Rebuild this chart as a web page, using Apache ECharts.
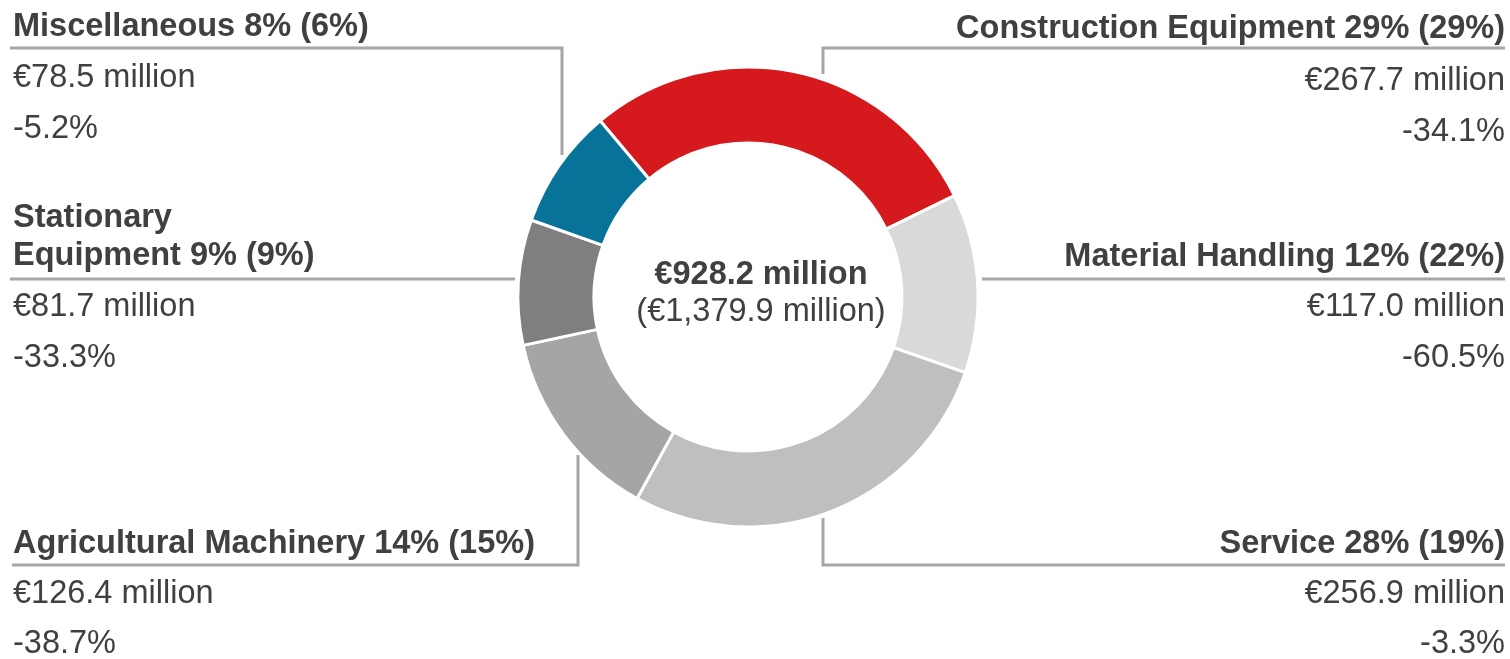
<!DOCTYPE html>
<html>
<head>
<meta charset="utf-8">
<title>Revenue by segment</title>
<script src="https://cdn.jsdelivr.net/npm/echarts@6/dist/echarts.min.js"></script>
<style>
  html, body { margin: 0; padding: 0; background: #fff; }
  #chart { width: 1510px; height: 659px; }
</style>
</head>
<body>
<div id="chart"></div>
<script>
// segment data
const segments = ['Construction Equipment', 'Material Handling', 'Service', 'Agricultural Machinery', 'Stationary\nEquipment', 'Miscellaneous']
const revenue = [267.7, 117.0, 256.9, 126.4, 81.7, 78.5]
const shareNow = [29, 12, 28, 14, 9, 8]
const sharePrev = [29, 22, 19, 15, 9, 6]
const change = [-34.1, -60.5, -3.3, -38.7, -33.3, -5.2]
const totalNow = 928.2
const totalPrev = '1,379.9'

const colors = ['#d5191c', '#d9d9d9', '#bfbfbf', '#a5a5a5', '#7f7f7f', '#077399']
const textColor = '#404040'
const lineColor = '#a6a6a6'
const font = '"Liberation Sans", Arial, sans-serif'

// where each label block sits, and its connector
const layout = [
  { x: 1505, align: 'right', title: 29, value: 81, pct: 132, line: [[1505, 48], [823, 48], [823, 74]] },
  { x: 1505, align: 'right', title: 257, value: 307, pct: 358, line: [[1505, 279], [982, 279]] },
  { x: 1505, align: 'right', title: 544, value: 594, pct: 644, line: [[1505, 565], [823, 565], [823, 518]] },
  { x: 13, align: 'left', title: 544, value: 594, pct: 644, line: [[12, 565], [578, 565], [578, 455]] },
  { x: 13, align: 'left', title: 237, value: 307, pct: 358, line: [[10, 279], [515, 279]] },
  { x: 13, align: 'left', title: 27, value: 78, pct: 129, line: [[10, 48], [562, 48], [562, 155]] }
]

function txt (x, y, text, align, bold) {
  return {
    type: 'text',
    x,
    y,
    z: 10,
    style: {
      text,
      fill: textColor,
      fontFamily: font,
      fontSize: 32.5,
      fontWeight: bold ? 'bold' : 'normal',
      lineHeight: 38,
      textAlign: align,
      textVerticalAlign: 'middle'
    }
  }
}

const graphics = []
segments.forEach((name, i) => {
  const l = layout[i]
  graphics.push({
    type: 'polyline',
    z: 1,
    shape: { points: l.line },
    style: { stroke: lineColor, lineWidth: 3, fill: null }
  })
  graphics.push(txt(l.x, l.title, name + ' ' + shareNow[i] + '% (' + sharePrev[i] + '%)', l.align, true))
  graphics.push(txt(l.x, l.value, '€' + revenue[i].toFixed(1) + ' million', l.align, false))
  graphics.push(txt(l.x, l.pct, change[i].toFixed(1) + '%', l.align, false))
})
graphics.push(txt(761, 275, '€' + totalNow.toFixed(1) + ' million', 'center', true))
graphics.push(txt(761, 312, '(€' + totalPrev + ' million)', 'center', false))

const chartDom = document.getElementById('chart')
const myChart = echarts.init(chartDom)

const option = {
  animation: false,
  color: colors,
  series: [
    {
      type: 'pie',
      center: [748, 297],
      radius: [154, 230],
      startAngle: 130,
      clockwise: true,
      silent: true,
      label: { show: false },
      labelLine: { show: false },
      itemStyle: { borderColor: '#fff', borderWidth: 3 },
      data: segments.map((name, i) => ({ name, value: revenue[i] }))
    }
  ],
  graphic: graphics
}

myChart.setOption(option)
</script>
</body>
</html>
